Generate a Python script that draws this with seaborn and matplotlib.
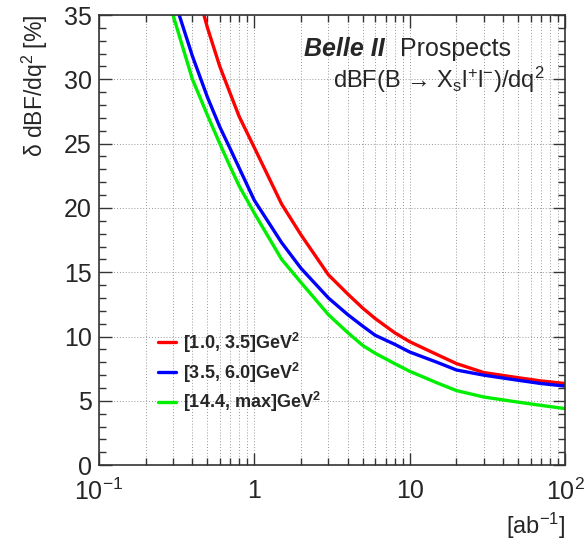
import numpy as np
import pandas as pd
import matplotlib
matplotlib.use("Agg")
import matplotlib.pyplot as plt
import matplotlib.ticker as mticker
import seaborn as sns

# integrated luminosity [ab^-1]
lumi = [0.28, 0.3, 0.4, 0.45, 0.5, 0.6, 0.7, 0.8, 1, 1.5, 2, 3, 4, 5, 6, 8, 10, 15, 20, 30, 50, 70, 100]

# relative uncertainty [%] per q^2 bin
err_low = [None, None, None, 36.0, 34.0, 31.0, 28.9, 27.1, 24.7, 20.3, 17.9, 14.8, 13.3, 12.2, 11.4, 10.3, 9.6, 8.6, 7.9, 7.2, 6.8, 6.55, 6.35]
err_mid = [None, 36.5, 31.8, None, 28.6, 26.3, 24.6, 23.1, 20.6, 17.3, 15.3, 13.0, 11.7, 10.8, 10.1, 9.4, 8.8, 8.0, 7.4, 7.0, 6.6, 6.35, 6.15]
err_high = [36.0, 35.0, 30.0, None, 27.2, 25.0, 23.2, 21.7, 19.6, 16.0, 14.2, 11.7, 10.3, 9.3, 8.7, 7.9, 7.3, 6.4, 5.8, 5.3, 4.9, 4.65, 4.4]

bins = ["[1.0, 3.5]GeV$^{2}$", "[3.5, 6.0]GeV$^{2}$", "[14.4, max]GeV$^{2}$"]
colors = ["#ff0000", "#0000ff", "#00ee00"]

rows = []
for b, vals in zip(bins, [err_low, err_mid, err_high]):
    for l, v in zip(lumi, vals):
        if v is not None:
            rows.append({"lumi": l, "err": v, "bin": b})
df = pd.DataFrame(rows)

sns.set_theme(style="ticks")
plt.rcParams["font.family"] = ["Liberation Sans", "DejaVu Sans"]
plt.rcParams["mathtext.default"] = "regular"

fig = plt.figure(figsize=(5.85, 5.46), dpi=100)
ax = fig.add_axes([0.169, 0.148, 0.797, 0.8245])

sns.lineplot(data=df, x="lumi", y="err", hue="bin", palette=colors,
             linewidth=2.4, ax=ax, sort=True)

ax.set_xscale("log")
ax.set_xlim(0.1, 100)
ax.set_ylim(0, 35)

ax.xaxis.set_major_locator(mticker.FixedLocator([0.1, 1, 10, 100]))
ax.xaxis.set_major_formatter(mticker.FixedFormatter(["$10^{-1}$", "1", "10", "$10^{2}$"]))
ax.xaxis.set_minor_locator(mticker.LogLocator(base=10, subs=np.arange(2, 10)))
ax.xaxis.set_minor_formatter(mticker.NullFormatter())
ax.yaxis.set_major_locator(mticker.MultipleLocator(5))
ax.yaxis.set_minor_locator(mticker.MultipleLocator(1))

ax.grid(which="major", axis="both", linestyle=(0, (1, 2)), color="#999999", linewidth=0.7)
ax.grid(which="minor", axis="x", linestyle=(0, (1, 2)), color="#999999", linewidth=0.7)

ax.tick_params(which="both", direction="in", top=True, right=True, labelsize=18,
               color="#333333")
ax.tick_params(which="major", length=9, width=1)
ax.tick_params(which="minor", length=5, width=1)
ax.tick_params(axis="x", pad=10)
ax.tick_params(axis="y", pad=5)
for s in ax.spines.values():
    s.set_color("#333333")
    s.set_linewidth(1.2)

ax.set_xlabel("[ab$^{-1}$]", fontsize=17, loc="right", labelpad=4)
ax.set_ylabel("δ dBF/dq$^{2}$ [%]", fontsize=16.5, loc="top", labelpad=10)

ax.text(0.44, 0.925, "Belle II", transform=ax.transAxes, fontsize=18,
        fontweight="bold", fontstyle="italic", ha="left", va="center")
ax.text(0.645, 0.925, "Prospects", transform=ax.transAxes, fontsize=18,
        ha="left", va="center")
ax.text(0.955, 0.855, "dBF(B → X$_{s}$l$^{+}$l$^{-}$)/dq$^{2}$",
        transform=ax.transAxes, fontsize=17, ha="right", va="center")

leg = ax.legend(loc="upper left", bbox_to_anchor=(0.092, 0.335), frameon=False,
                fontsize=13, handlelength=1.0, handletextpad=0.4, labelspacing=0.32,
                title=None)
for t in leg.get_texts():
    t.set_fontweight("bold")

fig.savefig("out.png", dpi=100)
